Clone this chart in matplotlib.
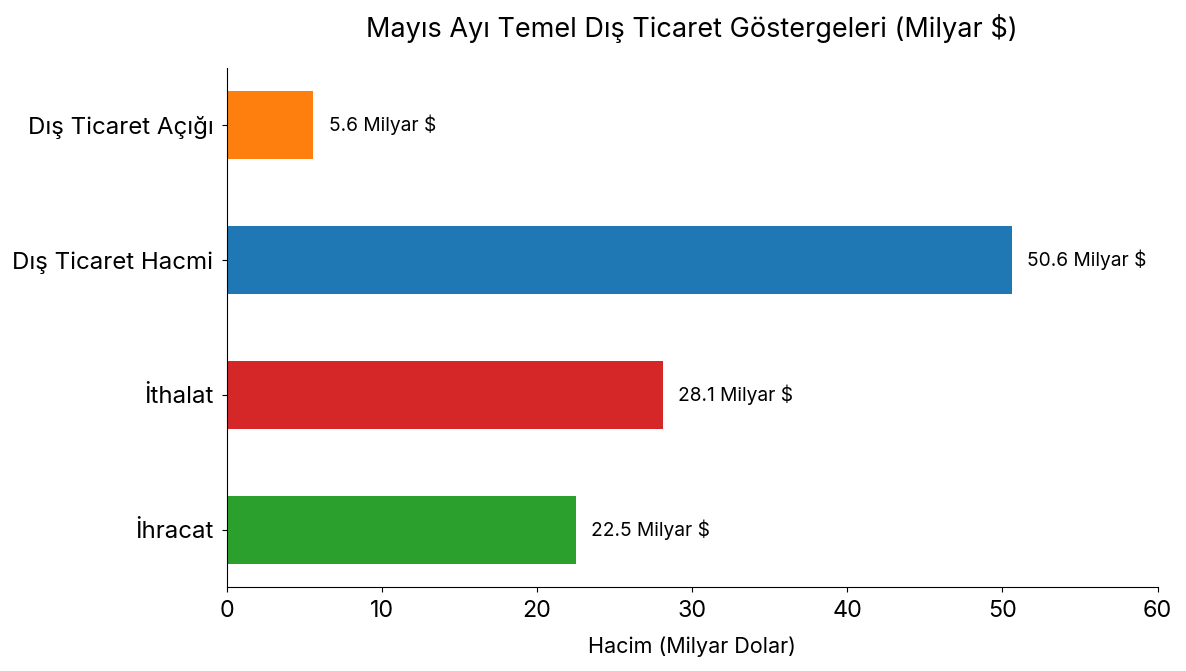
import matplotlib.pyplot as plt

plt.rcParams['font.family'] = ['Inter', 'DejaVu Sans']

categories = ['İhracat', 'İthalat', 'Dış Ticaret Hacmi', 'Dış Ticaret Açığı']
values = [22.5, 28.1, 50.6, 5.6]
colors = ['#2ca02c', '#d62728', '#1f77b4', '#ff7f0e']

fig, ax = plt.subplots(figsize=(11.86, 6.71), dpi=100)
fig.subplots_adjust(left=0.191, right=0.976, top=0.899, bottom=0.125)

bars = ax.barh(categories, values, color=colors, height=0.5)
for bar, v in zip(bars, values):
    ax.text(v + 1.0, bar.get_y() + bar.get_height() / 2, f'{v} Milyar $',
            va='center', ha='left', fontsize=13.8)

ax.set_xlim(0, 60)
ax.set_title('Mayıs Ayı Temel Dış Ticaret Göstergeleri (Milyar $)', fontsize=19.5, pad=22)
ax.set_xlabel('Hacim (Milyar Dolar)', fontsize=15.5, labelpad=10)
ax.tick_params(axis='x', labelsize=16.8, pad=6)
ax.tick_params(axis='y', labelsize=17.3, pad=6)
ax.spines['top'].set_visible(False)
ax.spines['right'].set_visible(False)

fig.savefig('out.png')
